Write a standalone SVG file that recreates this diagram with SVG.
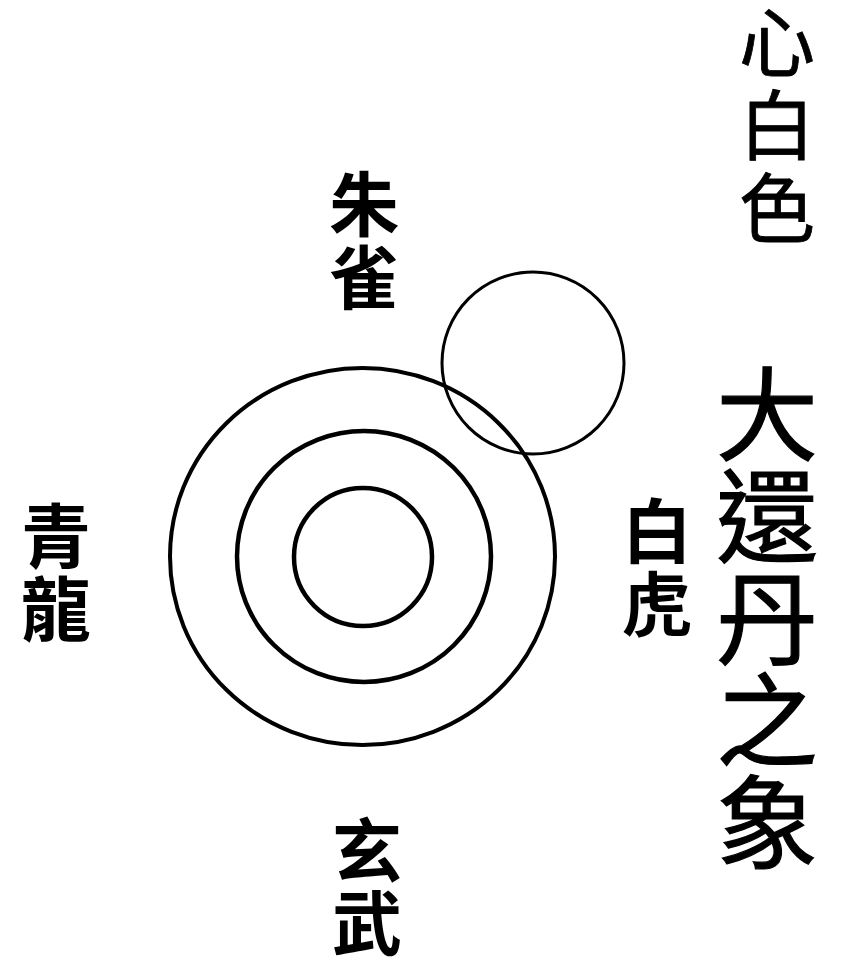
<svg xmlns="http://www.w3.org/2000/svg" width="858" height="969" viewBox="0 0 858 969">
  <style>
    .ring { fill: none; stroke: #000; }
    .lbl { font-family: "Noto Sans CJK TC", "Noto Sans CJK SC", sans-serif; fill: #000; text-anchor: middle; dominant-baseline: central; }
    .small { font-size: 70px; font-weight: 700; }
    .title { font-size: 102px; stroke: #000; stroke-width: 1.2px; }
    .note { font-size: 76px; stroke: #000; stroke-width: 0.8px; }
  </style>
  <rect x="0" y="0" width="858" height="969" fill="#fff"/>
  <g id="rings">
    <ellipse id="outer" class="ring" cx="362.5" cy="556.5" rx="192.5" ry="188.5" stroke-width="4"/>
    <ellipse id="middle" class="ring" cx="364" cy="556.5" rx="127" ry="125.5" stroke-width="4.5"/>
    <ellipse id="inner" class="ring" cx="363" cy="557" rx="69" ry="69" stroke-width="4.5"/>
    <circle id="small" class="ring" cx="533" cy="363" r="91" stroke-width="3"/>
  </g>
  <g id="zhuque">
    <text class="lbl small" x="364" y="200">朱</text>
    <text class="lbl small" x="364" y="273">雀</text>
  </g>
  <g id="qinglong">
    <text class="lbl small" x="56" y="532">青</text>
    <text class="lbl small" x="56" y="605">龍</text>
  </g>
  <g id="baihu">
    <text class="lbl small" x="657" y="527">白</text>
    <text class="lbl small" x="657" y="600">虎</text>
  </g>
  <g id="xuanwu">
    <text class="lbl small" x="367" y="846">玄</text>
    <text class="lbl small" x="367" y="919">武</text>
  </g>
  <g id="note">
    <text class="lbl note" x="777" y="38">心</text>
    <text class="lbl note" x="777" y="121">白</text>
    <text class="lbl note" x="777" y="204">色</text>
  </g>
  <g id="title">
    <text class="lbl title" x="767" y="408">大</text>
    <text class="lbl title" x="767" y="510">還</text>
    <text class="lbl title" x="767" y="612">丹</text>
    <text class="lbl title" x="767" y="714">之</text>
    <text class="lbl title" x="767" y="816">象</text>
  </g>
  <g id="connectors"></g>
</svg>
